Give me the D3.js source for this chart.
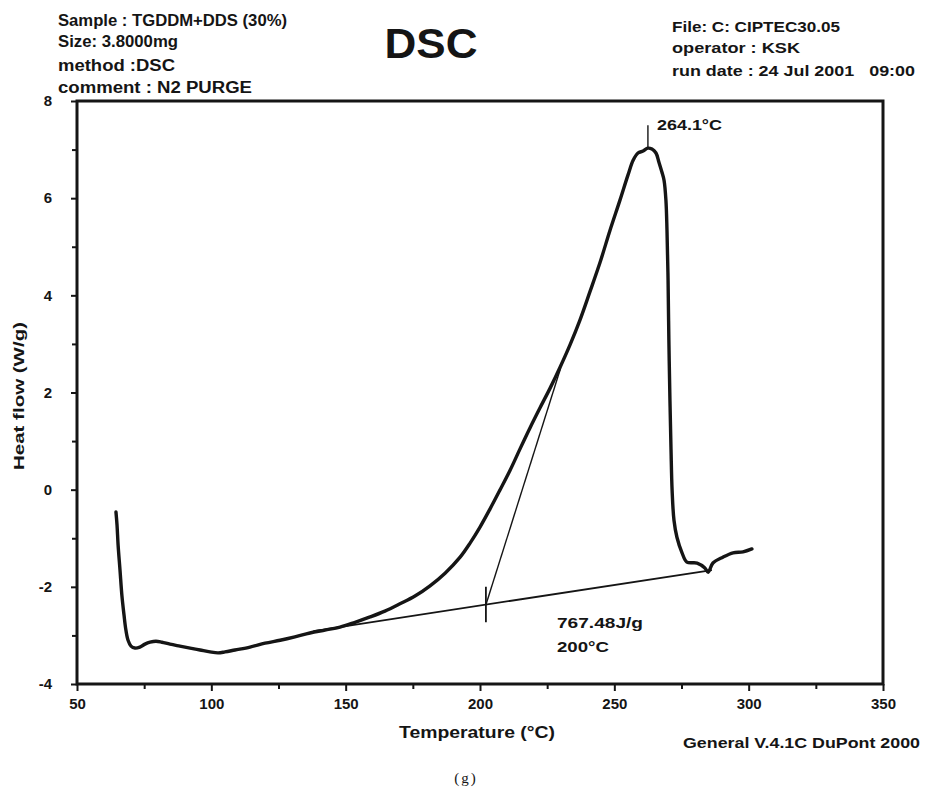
<!DOCTYPE html>
<html><head><meta charset="utf-8">
<script src="https://cdn.jsdelivr.net/npm/d3@7"></script>
<style>
body{margin:0;background:#fff}
svg{display:block}
text{font-family:"Liberation Sans",Arial,sans-serif;font-weight:bold;fill:#151515}
</style>
</head><body><svg id="c" width="932" height="797"></svg>
<script>
// ---- data ----
const temperature = [64.5,64.9,65.3,66.0,66.7,67.5,68.2,69.0,70.1,71.6,73.4,75.3,77.2,79.4,81.6,84.6,88.3,92.1,95.8,99.5,102.5,105.1,108.8,114.4,120.0,125.6,131.1,136.7,142.3,147.9,153.5,159.1,164.6,170.2,175.8,181.4,187.0,192.6,196.3,200.0,203.7,207.4,211.2,214.9,218.6,222.3,226.1,229.8,233.5,237.2,240.9,244.7,248.4,252.1,255.1,257.0,258.8,260.7,262.5,264.0,265.5,266.6,267.7,268.5,269.2,269.6,270.0,270.3,270.7,271.1,271.5,272.2,273.3,275.2,277.0,280.8,283.7,284.9,286.7,290.4,294.2,297.9,301.2];
const heatFlow = [-0.46,-0.73,-1.14,-1.65,-2.17,-2.58,-2.89,-3.10,-3.22,-3.26,-3.24,-3.18,-3.14,-3.12,-3.14,-3.18,-3.22,-3.26,-3.30,-3.34,-3.36,-3.34,-3.30,-3.24,-3.16,-3.10,-3.03,-2.95,-2.89,-2.83,-2.73,-2.62,-2.50,-2.35,-2.19,-1.98,-1.72,-1.39,-1.10,-0.77,-0.40,-0.01,0.40,0.84,1.27,1.68,2.09,2.52,2.98,3.49,4.07,4.68,5.34,5.96,6.48,6.78,6.93,6.97,7.03,7.01,6.93,6.74,6.54,6.37,5.96,5.34,4.31,3.08,1.84,0.82,-0.01,-0.63,-0.98,-1.30,-1.49,-1.51,-1.61,-1.70,-1.51,-1.39,-1.30,-1.28,-1.22];
const baselineT = [138.0, 286.3];
const baselineHF = [-2.91, -1.655];
const onsetT = [202.2, 230.0];
const onsetHF = [-2.37, 2.50];
const markerT = [202.2, 202.2];
const markerHF = [-2.00, -2.73];
const peakT = [262.5, 262.5];
const peakHF = [7.03, 7.50];
const xTicks = [50,100,150,200,250,300,350];
const xMinorTicks = [75,125,175,225,275,325];
const yTicks = [-4,-2,0,2,4,6,8];
const yMinorTicks = [-3,-1,1,3,5,7];
const headerLeft = ["Sample : TGDDM+DDS (30%)","Size: 3.8000mg","method :DSC","comment : N2 PURGE"];
const headerRight = ["File: C: CIPTEC30.05","operator : KSK","run date : 24 Jul 2001   09:00"];
const peakLabel = "264.1°C";
const areaLabels = ["767.48J/g","200°C"];

// ---- layout ----
const svg = d3.select("#c");
const L=77, R=883, T=101, B=684;
const x = d3.scaleLinear().domain([50,350]).range([L,R]);
const y = d3.scaleLinear().domain([-4,8]).range([B,T]);

function txt(px,py,s,size,len,anchor){
  const t = svg.append("text").attr("x",px).attr("y",py).text(s)
    .style("font-size",size+"px").style("white-space","pre")
    .attr("text-anchor",anchor||"start");
  if(len){ t.attr("textLength",len).attr("lengthAdjust","spacingAndGlyphs"); }
  return t;
}

// axes
const gx = svg.append("g").attr("transform",`translate(0,${B})`)
  .call(d3.axisBottom(x).tickValues(xTicks).tickSize(7).tickPadding(7).tickFormat(d3.format("d")));
const gxm = svg.append("g").attr("transform",`translate(0,${B})`)
  .call(d3.axisBottom(x).tickValues(xMinorTicks).tickSize(5).tickFormat(""));
const gy = svg.append("g").attr("transform",`translate(${L},0)`)
  .call(d3.axisLeft(y).tickValues(yTicks).tickSize(6).tickPadding(19).tickFormat(d3.format("d")));
const gym = svg.append("g").attr("transform",`translate(${L},0)`)
  .call(d3.axisLeft(y).tickValues(yMinorTicks).tickSize(5).tickFormat(""));
[gx,gxm,gy,gym].forEach(g=>{
  g.select(".domain").remove();
  g.selectAll(".tick line").attr("stroke","#151515").attr("stroke-width",2);
  g.selectAll(".tick text").attr("fill","#151515").style("font-size","15px")
   .style("font-family","'Liberation Sans',Arial,sans-serif").style("font-weight","bold");
});
gy.selectAll(".tick text").text(d=> d<0 ? "-"+Math.abs(d) : d);

// frame
svg.append("rect").attr("x",L).attr("y",T).attr("width",R-L).attr("height",B-T)
  .attr("fill","none").attr("stroke","#151515").attr("stroke-width",3);

// thin annotation lines
const seg = (xs,ys,w)=> svg.append("line")
  .attr("x1",x(xs[0])).attr("y1",y(ys[0])).attr("x2",x(xs[1])).attr("y2",y(ys[1]))
  .attr("stroke","#151515").attr("stroke-width",w);
seg(baselineT,baselineHF,1.8);
seg(onsetT,onsetHF,1.4);
seg(markerT,markerHF,1.8);
seg(peakT,peakHF,1.4);

// curve
const pts = temperature.map((t,i)=>[t,heatFlow[i]]);
svg.append("path").datum(pts)
  .attr("d",d3.line().x(d=>x(d[0])).y(d=>y(d[1])).curve(d3.curveCatmullRom.alpha(0.5)))
  .attr("fill","none").attr("stroke","#151515").attr("stroke-width",3.4)
  .attr("stroke-linejoin","round").attr("stroke-linecap","round");

// header texts
const leftLens=[229,120,117,194];
headerLeft.forEach((s,i)=>txt(58,[26,47,71,93][i],s,16,leftLens[i]));
const rightLens=[168,128,243];
headerRight.forEach((s,i)=>txt(672,[32,53,76][i],s,15,rightLens[i]));
txt(431,58,"DSC",42,93,"middle");

// annotations
txt(657,130,peakLabel,15,65);
txt(557,628,areaLabels[0],15,86);
txt(557,652,areaLabels[1],15,52);

// axis titles
txt(477,738,"Temperature (°C)",16,156,"middle");
svg.append("text").attr("transform","translate(24,396) rotate(-90)")
  .attr("text-anchor","middle").style("font-size","15px")
  .attr("textLength",148).attr("lengthAdjust","spacingAndGlyphs").text("Heat flow (W/g)");
txt(683,748,"General V.4.1C DuPont 2000",15,237);
svg.append("text").attr("x",466).attr("y",783).attr("text-anchor","middle")
  .style("font-family","'Liberation Serif',serif").style("font-weight","normal")
  .style("font-size","15px").style("letter-spacing","2px").text("(g)");
</script>
</body></html>
